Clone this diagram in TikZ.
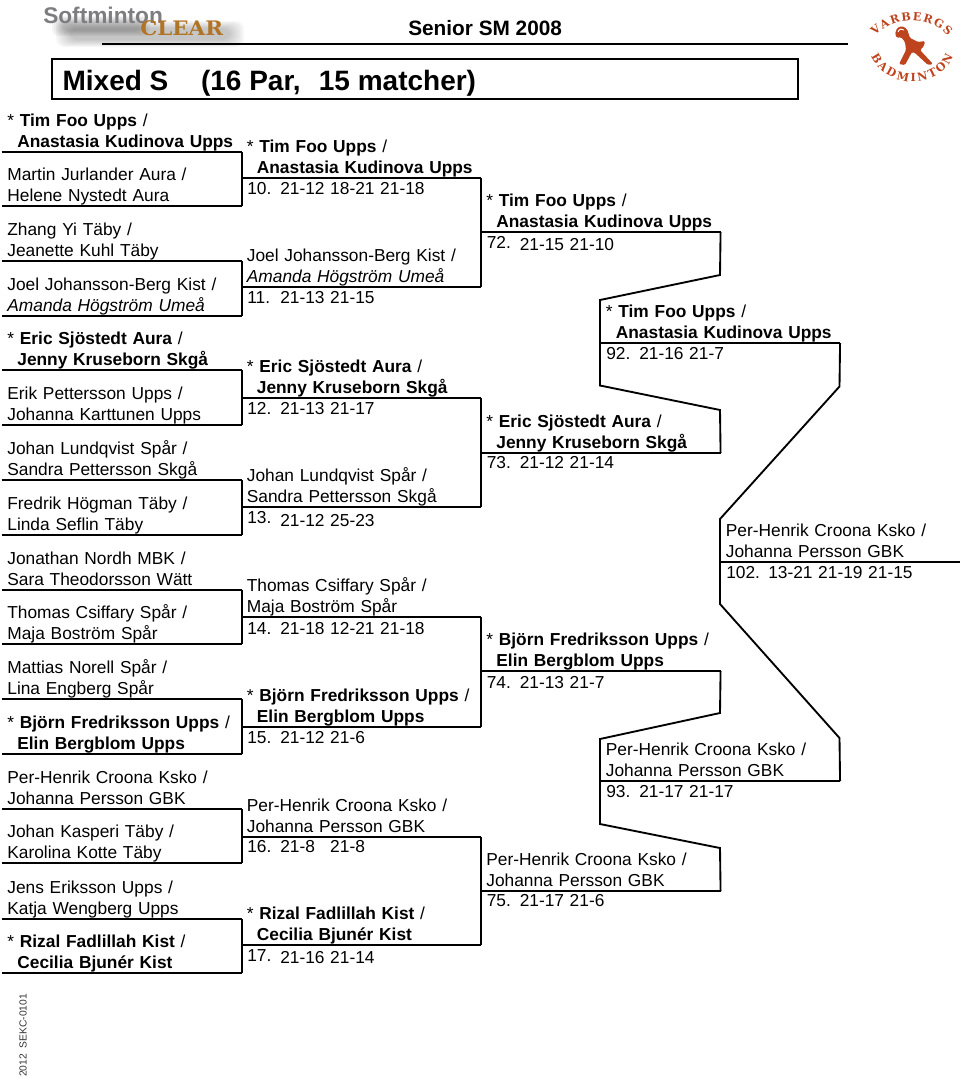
\documentclass[tikz,border=0pt]{standalone}
\usepackage{xcolor}
\usepackage{fontspec}
\setmainfont{Liberation Sans}
\newfontfamily\crestfont{DejaVu Serif}
\usepackage{tikz}
\usetikzlibrary{positioning,decorations.text}
\definecolor{crest}{RGB}{190,68,30}
\definecolor{softgray}{RGB}{125,125,128}
\definecolor{cleargold}{RGB}{176,116,38}
\newcommand{\duo}[2]{#1\\#2\rule[-3.4pt]{0pt}{3.4pt}}
\newcommand{\seed}[2]{\textmd{*} \textbf{#1} \textmd{/}\\\hspace*{7.5pt}\textbf{#2}\rule[-3.4pt]{0pt}{3.4pt}}
\newcommand{\scoreset}[5][24.75pt]{\makebox[#1][l]{#2}\makebox[37.5pt][l]{#3}\makebox[37.5pt][l]{#4}#5}

\begin{document}
\begin{tikzpicture}[
    x=0.75pt,y=-0.75pt,
    entry/.style={anchor=south west,inner xsep=4.2pt,inner ysep=0pt,text width=171.25pt,align=left,
                  font=\fontsize{13}{15.75}\selectfont},
    score/.style={anchor=base west,inner sep=0pt,font=\fontsize{13}{15.75}\selectfont},
    rule/.style={draw=black,line width=1.4pt,line join=miter},
    crestletter/.style={decorate,decoration={text along path,text align={fit to path},
                  text={|\crestfont\bfseries\fontsize{8.4}{10}\selectfont\color{crest}|#1}}}
  ]
    \useasboundingbox (0,0) rectangle (960,1078);

    % softminton logo
    \foreach \i in {0,...,7}
      \fill[black,opacity=0.03,rounded corners=6pt] (56+2*\i,21+\i) rectangle (244-2*\i,47-\i);
    \foreach \i in {0,...,5}
      \fill[black,opacity=0.04,rounded corners=4pt] (52+2*\i,16+\i) rectangle (150-2*\i,36-\i);
    \node[anchor=base west,inner sep=0pt,text=softgray,font=\fontsize{17}{20}\bfseries\selectfont] (soft) at (43,23) {Softminton};
    \node[anchor=base west,inner sep=0pt,text=cleargold,xscale=1.07,font=\crestfont\fontsize{15}{18}\bfseries\selectfont] (clear) at (140,35) {CLEAR};

    % varbergs logo
    \path[crestletter=VARBERGS] (875,36) .. controls (896,15) and (929,15) .. (948,36);
    \path[crestletter=BADMINTON] (871,56) .. controls (886,90) and (941,90) .. (953,56);
    \fill[crest,rounded corners=1pt] (895,34) -- (897,28) -- (902,26) -- (907,29) -- (910,38) -- (918,42) -- (925,41)
      -- (924,46) -- (920,50) -- (933,64) -- (928,65) -- (915,53) -- (912,52) -- (905,65) -- (899,64)
      -- (906,50) -- (905,42) -- (901,37) -- (897,38) -- cycle;
    \draw[white,line width=0.7pt] (898,32) .. controls (899,29) and (902,28) .. (904,30);

    % header
    \node[anchor=base west,inner sep=0pt,font=\fontsize{15.6}{18}\bfseries\selectfont] (event) at (408,35) {Senior SM 2008};
    \coordinate (headl) at (102,44);
    \coordinate (headr) at (848,44);
    \draw[draw=black,line width=1pt] (headl) -- (headr);
    \node[rule,anchor=south west,inner xsep=8pt,inner ysep=0pt,text height=23.8pt,text depth=6.2pt,
          font=\fontsize{21}{24}\bfseries\selectfont] (title) at (51,100)
          {\makebox[543.5pt][l]{Mixed S\hspace{24.5pt}(16 Par,\ \ \hspace{2pt}15 matcher)}};

    % first round
    \node[entry] (p1) at (1.5,152) {\seed{Tim Foo Upps}{Anastasia Kudinova Upps}};
    \node[entry] (p2) at (1.5,206) {\duo{Martin Jurlander Aura /}{Helene Nystedt Aura}};
    \node[entry] (p3) at (1.5,261) {\duo{Zhang Yi Täby /}{Jeanette Kuhl Täby}};
    \node[entry] (p4) at (1.5,316) {\duo{Joel Johansson-Berg Kist /}{\textit{Amanda Högström Umeå}}};
    \node[entry] (p5) at (1.5,370) {\seed{Eric Sjöstedt Aura}{Jenny Kruseborn Skgå}};
    \node[entry] (p6) at (1.5,425) {\duo{Erik Pettersson Upps /}{Johanna Karttunen Upps}};
    \node[entry] (p7) at (1.5,480) {\duo{Johan Lundqvist Spår /}{Sandra Pettersson Skgå}};
    \node[entry] (p8) at (1.5,535) {\duo{Fredrik Högman Täby /}{Linda Seflin Täby}};
    \node[entry] (p9) at (1.5,590) {\duo{Jonathan Nordh MBK /}{Sara Theodorsson Wätt}};
    \node[entry] (p10) at (1.5,644) {\duo{Thomas Csiffary Spår /}{Maja Boström Spår}};
    \node[entry] (p11) at (1.5,699) {\duo{Mattias Norell Spår /}{Lina Engberg Spår}};
    \node[entry] (p12) at (1.5,754) {\seed{Björn Fredriksson Upps}{Elin Bergblom Upps}};
    \node[entry] (p13) at (1.5,809) {\duo{Per-Henrik Croona Ksko /}{Johanna Persson GBK}};
    \node[entry] (p14) at (1.5,863) {\duo{Johan Kasperi Täby /}{Karolina Kotte Täby}};
    \node[entry] (p15) at (1.5,919) {\duo{Jens Eriksson Upps /}{Katja Wengberg Upps}};
    \node[entry] (p16) at (1.5,973) {\seed{Rizal Fadlillah Kist}{Cecilia Bjunér Kist}};

    % second round
    \node[entry] (m10) at (241,178) {\seed{Tim Foo Upps}{Anastasia Kudinova Upps}};
    \node[entry] (m11) at (241,287) {\duo{Joel Johansson-Berg Kist /}{\textit{Amanda Högström Umeå}}};
    \node[entry] (m12) at (241,398) {\seed{Eric Sjöstedt Aura}{Jenny Kruseborn Skgå}};
    \node[entry] (m13) at (241,507) {\duo{Johan Lundqvist Spår /}{Sandra Pettersson Skgå}};
    \node[entry] (m14) at (241,617) {\duo{Thomas Csiffary Spår /}{Maja Boström Spår}};
    \node[entry] (m15) at (241,727) {\seed{Björn Fredriksson Upps}{Elin Bergblom Upps}};
    \node[entry] (m16) at (241,837) {\duo{Per-Henrik Croona Ksko /}{Johanna Persson GBK}};
    \node[entry] (m17) at (241,945) {\seed{Rizal Fadlillah Kist}{Cecilia Bjunér Kist}};
    \node[score] (s10) at ([shift={(6,16)}]m10.south west) {\scoreset{10.}{21-12}{18-21}{21-18}};
    \node[score] (s11) at ([shift={(6,16)}]m11.south west) {\scoreset{11.}{21-13}{21-15}{}};
    \node[score] (s12) at ([shift={(6,16.3)}]m12.south west) {\scoreset{12.}{21-13}{21-17}{}};
    \node[score] (s13) at ([shift={(6,19)}]m13.south west) {\scoreset{\raisebox{2.2pt}{13.}}{21-12}{25-23}{}};
    \node[score] (s14) at ([shift={(6,17)}]m14.south west) {\scoreset{14.}{21-18}{12-21}{21-18}};
    \node[score] (s15) at ([shift={(6,16.7)}]m15.south west) {\scoreset{15.}{21-12}{21-6}{}};
    \node[score] (s16) at ([shift={(6,15.7)}]m16.south west) {\scoreset{16.}{21-8}{21-8}{}};
    \node[score] (s17) at ([shift={(6,18.7)}]m17.south west) {\scoreset{\raisebox{1.5pt}{17.}}{21-16}{21-14}{}};

    % quarter finals
    \node[entry] (m72) at (480.5,232) {\seed{Tim Foo Upps}{Anastasia Kudinova Upps}};
    \node[entry] (m73) at (480.5,453) {\seed{Eric Sjöstedt Aura}{Jenny Kruseborn Skgå}};
    \node[entry] (m74) at (480.5,671) {\seed{Björn Fredriksson Upps}{Elin Bergblom Upps}};
    \node[entry] (m75) at (480.5,891) {\duo{Per-Henrik Croona Ksko /}{Johanna Persson GBK}};
    \node[score] (s72) at ([shift={(6,18.5)}]m72.south west) {\scoreset{\raisebox{1.5pt}{72.}}{21-15}{21-10}{}};
    \node[score] (s73) at ([shift={(6,15.6)}]m73.south west) {\scoreset{73.}{21-12}{21-14}{}};
    \node[score] (s74) at ([shift={(6,17.6)}]m74.south west) {\scoreset{74.}{21-13}{21-7}{}};
    \node[score] (s75) at ([shift={(6,15.7)}]m75.south west) {\scoreset{75.}{21-17}{21-6}{}};

    % semi finals and final
    \node[entry] (m92) at (600,343) {\seed{Tim Foo Upps}{Anastasia Kudinova Upps}};
    \node[entry] (m93) at (600,781) {\duo{Per-Henrik Croona Ksko /}{Johanna Persson GBK}};
    \node[entry] (m102) at (720,562) {\duo{Per-Henrik Croona Ksko /}{Johanna Persson GBK}};
    \node[score] (s92) at ([shift={(6,16)}]m92.south west) {\scoreset{92.}{21-16}{21-7}{}};
    \node[score] (s93) at ([shift={(6,16.4)}]m93.south west) {\scoreset{93.}{21-17}{21-17}{}};
    \node[score] (s102) at ([shift={(6,16.6)}]m102.south west) {\scoreset[31.5pt]{102.}{13-21}{21-19}{21-15}};

    % bends
    \coordinate (b1) at (720,275);
    \coordinate (b2) at (600,300);
    \coordinate (b3) at (600,385.5);
    \coordinate (b4) at (720,410);
    \coordinate (b5) at (839.5,386.5);
    \coordinate (b6) at (720,519);
    \coordinate (b7) at (720,604);
    \coordinate (b8) at (839.5,738);
    \coordinate (b9) at (720,713);
    \coordinate (b10) at (600,739);
    \coordinate (b11) at (600,824);
    \coordinate (b12) at (720,848);

    % rules and brackets
    \foreach \n in {p1,p2,p3,p4,p5,p6,p7,p8,p9,p10,p11,p12,p13,p14,p15,p16,
                    m10,m11,m12,m13,m14,m15,m16,m17,m72,m73,m74,m75,m92,m93,m102}
      \draw[rule] (\n.south west) -- (\n.south east);
    \foreach \a/\b in {p1/p2,p3/p4,p5/p6,p7/p8,p9/p10,p11/p12,p13/p14,p15/p16,
                       m10/m11,m12/m13,m14/m15,m16/m17}
      \draw[rule] (\a.south east) -- (\b.south east);
    \draw[rule] (m72.south east) -- (b1) -- (b2) -- (m92.south west) -- (b3) -- (b4) -- (m73.south east);
    \draw[rule] (m92.south east) -- (b5) -- (b6) -- (m102.south west) -- (b7) -- (b8) -- (m93.south east);
    \draw[rule] (m74.south east) -- (b9) -- (b10) -- (m93.south west) -- (b11) -- (b12) -- (m75.south east);

    % footer
    \node[anchor=base west,rotate=90,inner sep=0pt,text=black!80,font=\fontsize{7.7}{9}\selectfont] (stamp) at (26.5,1077) {2012\ \ SEKC-0101};
  \end{tikzpicture}
\end{document}
